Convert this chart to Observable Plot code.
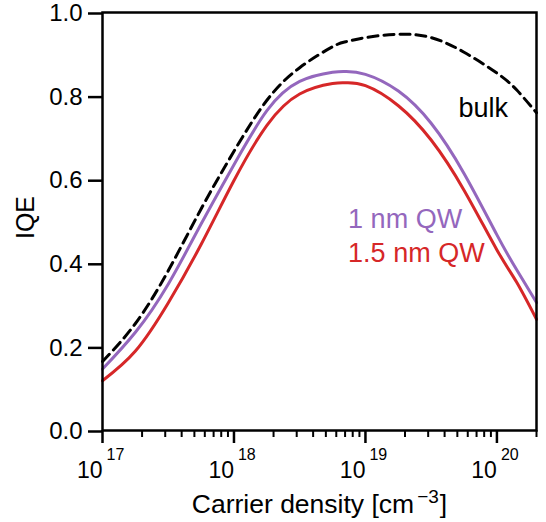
<!DOCTYPE html>
<html><head><meta charset="utf-8">
<script src="https://cdn.jsdelivr.net/npm/d3@7"></script>
<script src="https://cdn.jsdelivr.net/npm/@observablehq/plot@0.6"></script>
<style>body{margin:0;background:#fff}</style>
</head><body><div id="chart"></div>
<script>
// Carrier density [cm^-3]
const density = [1e17, 1.78e17, 3.16e17, 5.62e17, 1e18, 1.78e18, 3.16e18, 5.62e18, 7.08e18, 1e19, 1.78e19, 3.16e19, 5.62e19, 1e20, 1.41e20, 2e20];
// IQE per series
const bulkIQE = [0.165, 0.256, 0.382, 0.53, 0.668, 0.79, 0.868, 0.918, 0.93, 0.94, 0.948, 0.94, 0.905, 0.855, 0.815, 0.76];
const qw1IQE  = [0.147, 0.235, 0.35, 0.494, 0.636, 0.765, 0.835, 0.857, 0.859, 0.852, 0.812, 0.735, 0.615, 0.468, 0.385, 0.306];
const qw15IQE = [0.119, 0.19, 0.305, 0.445, 0.598, 0.73, 0.805, 0.83, 0.832, 0.825, 0.777, 0.695, 0.575, 0.432, 0.355, 0.266];

const seriesNames = ["bulk", "1 nm QW", "1.5 nm QW"];
const yTicks = [0, 0.2, 0.4, 0.6, 0.8, 1.0];
const majorTicks = [1e17, 1e18, 1e19, 1e20];
const majorExponents = ["17", "18", "19", "20"];
const minorTicks = [2e17,3e17,4e17,5e17,6e17,7e17,8e17,9e17,2e18,3e18,4e18,5e18,6e18,7e18,8e18,9e18,2e19,3e19,4e19,5e19,6e19,7e19,8e19,9e19,2e20];
const xLabelMain = "Carrier density [cm";
const xLabelSup = "−3";
const xLabelEnd = "]";
const yLabel = "IQE";

const PURPLE = "#9467bd", RED = "#d62728";
const rows = vals => density.map((d, i) => ({x: d, y: vals[i]}));
const font = "'Liberation Sans', Arial, Helvetica, sans-serif";

const chart = Plot.plot({
  width: 546, height: 522,
  marginLeft: 102, marginRight: 10, marginTop: 12, marginBottom: 92,
  style: {fontFamily: font, background: "#fff", color: "#000", overflow: "visible"},
  x: {type: "log", domain: [1e17, 2e20]},
  y: {domain: [0, 1]},
  marks: [
    Plot.line(rows(bulkIQE), {x: "x", y: "y", stroke: "#000", strokeWidth: 3, strokeDasharray: "10,6", curve: "natural"}),
    Plot.line(rows(qw1IQE), {x: "x", y: "y", stroke: PURPLE, strokeWidth: 3, curve: "natural"}),
    Plot.line(rows(qw15IQE), {x: "x", y: "y", stroke: RED, strokeWidth: 3, curve: "natural"}),
    Plot.frame({stroke: "#000", strokeWidth: 2.5}),
    Plot.axisY({ticks: yTicks, tickSize: 14, tickPadding: 6, tickFormat: d3.format(".1f"), fontSize: 24, label: null, strokeWidth: 2.5, dy: 1}),
    Plot.axisX({ticks: majorTicks, tickSize: 13, tickFormat: () => "", label: null, strokeWidth: 2.5}),
    Plot.axisX({ticks: minorTicks, tickSize: 7, tickFormat: () => "", label: null, strokeWidth: 2}),
    Plot.text(majorTicks, {x: d => d, frameAnchor: "bottom", text: () => "10", textAnchor: "end", lineAnchor: "bottom", dx: 0, dy: 47, fontSize: 23}),
    Plot.text(majorTicks, {x: d => d, frameAnchor: "bottom", text: (d, i) => majorExponents[i], textAnchor: "start", lineAnchor: "bottom", dx: 4, dy: 29, fontSize: 16}),
    Plot.text([xLabelMain], {frameAnchor: "bottom", text: d => d, textAnchor: "middle", lineAnchor: "bottom", dy: 82, fontSize: 26.5}),
    Plot.text([yLabel], {frameAnchor: "left", text: d => d, rotate: -90, textAnchor: "middle", lineAnchor: "bottom", dx: -69, dy: -4, fontSize: 25}),
    Plot.text([seriesNames[0]], {x: 5.1e19, y: 0.749, text: d => d, textAnchor: "start", lineAnchor: "bottom", fontSize: 27, fill: "#000"}),
    Plot.text([seriesNames[1]], {x: 7.38e18, y: 0.485, text: d => d, textAnchor: "start", lineAnchor: "bottom", fontSize: 27, fill: PURPLE}),
    Plot.text([seriesNames[2]], {x: 7.38e18, y: 0.402, text: d => d, textAnchor: "start", lineAnchor: "bottom", fontSize: 27, fill: RED})
  ]
});
document.getElementById("chart").appendChild(chart);

// Add superscript to the x-axis label (real text via tspans)
d3.select(chart).selectAll("text").filter(function() { return this.textContent === xLabelMain; }).each(function() {
  const t = d3.select(this);
  t.text(null);
  t.append("tspan").text(xLabelMain);
  t.append("tspan").attr("dx", "3").attr("dy", "-10").attr("font-size", "19px").text(xLabelSup);
  t.append("tspan").attr("dx", "1").attr("dy", "10").attr("font-size", "26.5px").text(xLabelEnd);
});
</script>
</body></html>
